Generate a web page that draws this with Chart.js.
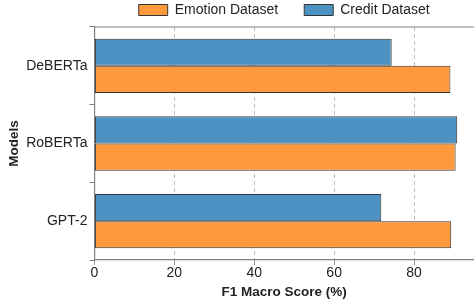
<!DOCTYPE html>
<html lang="en">
<head>
    <meta charset="UTF-8">
    <title>F1 Macro Score by Model</title>
    <script src="https://cdn.jsdelivr.net/npm/chart.js"></script>
    <style>
        html, body {
            margin: 0;
            padding: 0;
            background: white;
        }

        .wrap {
            width: 474px;
            height: 307px;
        }
    </style>
</head>
<body>
    <div class="wrap">
        <canvas id="f1Chart" width="474" height="307"></canvas>
    </div>

    <script>
        const models = ["DeBERTa", "RoBERTa", "GPT-2"];
        const emotionScores = [89.1, 90.4, 89.3];
        const creditScores = [74.4, 90.8, 71.8];
        const xTicks = [0, 20, 40, 60, 80];

        const fontFamily = "'Liberation Sans', Arial, Helvetica, sans-serif";
        Chart.defaults.font.family = fontFamily;
        Chart.defaults.color = '#222';

        // matplotlib-style top spine
        const topSpine = {
            id: 'topSpine',
            afterDraw(chart) {
                const { ctx, chartArea } = chart;
                ctx.save();
                ctx.strokeStyle = '#808080';
                ctx.lineWidth = 1.2;
                ctx.beginPath();
                ctx.moveTo(chartArea.left, chartArea.top);
                ctx.lineTo(chartArea.right, chartArea.top);
                ctx.stroke();
                ctx.restore();
            }
        };

        const ctx = document.getElementById('f1Chart').getContext('2d');
        new Chart(ctx, {
            type: 'bar',
            data: {
                labels: models,
                datasets: [
                    {
                        label: 'Credit Dataset',
                        data: creditScores,
                        backgroundColor: 'rgb(76, 146, 195)',
                        borderColor: '#333',
                        borderWidth: 1,
                        borderSkipped: false
                    },
                    {
                        label: 'Emotion Dataset',
                        data: emotionScores,
                        backgroundColor: 'rgb(255, 153, 62)',
                        borderColor: '#333',
                        borderWidth: 1,
                        borderSkipped: false
                    }
                ]
            },
            options: {
                indexAxis: 'y',
                responsive: false,
                animation: false,
                datasets: {
                    bar: {
                        categoryPercentage: 0.7,
                        barPercentage: 1.0
                    }
                },
                layout: {
                    padding: { left: 6, right: 0, top: -23, bottom: 7 }
                },
                plugins: {
                    tooltip: { enabled: false },
                    legend: {
                        position: 'top',
                        fullSize: false,
                        labels: {
                            boxWidth: 29,
                            boxHeight: 11,
                            padding: 26,
                            font: { size: 14 },
                            color: '#222',
                            sort: (a, b) => b.datasetIndex - a.datasetIndex
                        }
                    }
                },
                scales: {
                    x: {
                        min: 0,
                        max: 95,
                        afterBuildTicks(axis) {
                            axis.ticks = xTicks.map(v => ({ value: v }));
                        },
                        ticks: {
                            font: { size: 14 },
                            color: '#222',
                            padding: 0
                        },
                        grid: {
                            color: 'rgba(0,0,0,0.25)',
                            tickBorderDash: [1, 0],
                            tickColor: '#808080',
                            tickLength: 5,
                            lineWidth: 1
                        },
                        border: {
                            display: true,
                            color: '#808080',
                            width: 1.2,
                            dash: [4, 3]
                        },
                        title: {
                            display: true,
                            text: 'F1 Macro Score (%)',
                            font: { size: 13.5, weight: 'bold' },
                            color: '#222',
                            padding: { top: 2, bottom: 0 }
                        }
                    },
                    y: {
                        ticks: {
                            font: { size: 14 },
                            color: '#222',
                            padding: 2
                        },
                        grid: {
                            drawOnChartArea: false,
                            drawTicks: true,
                            tickColor: '#808080',
                            tickLength: 5
                        },
                        border: {
                            display: true,
                            color: '#808080',
                            width: 1.2
                        },
                        title: {
                            display: true,
                            text: 'Models',
                            font: { size: 13.5, weight: 'bold' },
                            color: '#222',
                            padding: { top: 0, bottom: 2 }
                        }
                    }
                }
            },
            plugins: [topSpine]
        });
    </script>
</body>
</html>
